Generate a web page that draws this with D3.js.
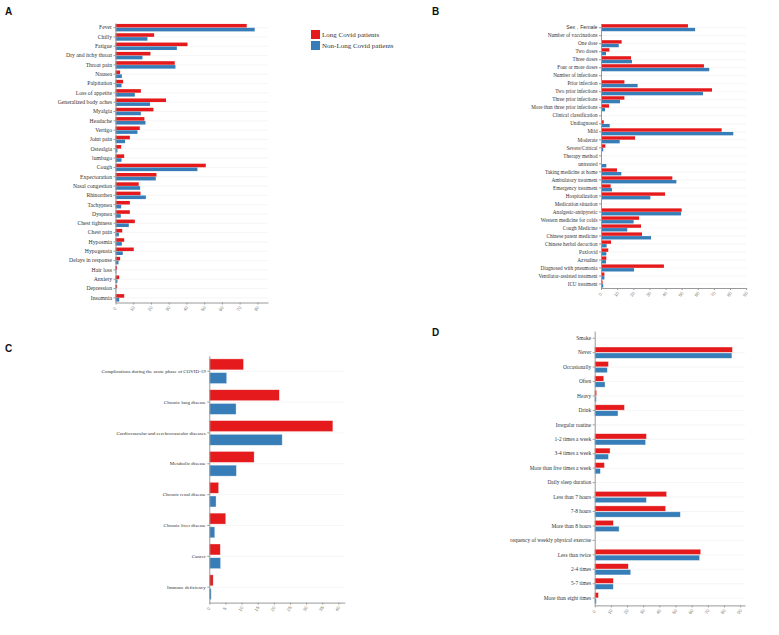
<!DOCTYPE html>
<html>
<head>
<meta charset="utf-8">
<script src="https://cdn.jsdelivr.net/npm/d3@7"></script>
<style>
    body { margin: 0; background: #fff; }
    svg { display: block; }
    .cat-label { font-family: "Liberation Serif", "Times New Roman", serif; fill: #333; }
    .tick-label { font-family: "Liberation Sans", Arial, sans-serif; fill: #777; }
    .panel-tag { font-family: "Liberation Sans", Arial, sans-serif; font-weight: bold; font-size: 10px; fill: #111; }
    .legend-text { font-family: "Liberation Serif", "Times New Roman", serif; font-size: 7px; fill: #333; }
</style>
</head>
<body>
<svg id="chart" width="779" height="635"></svg>
<script>
// ---- data (percent of patients) ----
const seriesNames = ["Long Covid patients", "Non-Long Covid patients"];
const seriesColors = ["#e41a1c", "#377eb8"];

// A: symptoms
const symptoms = ["Fever", "Chilly", "Fatigue", "Dry and itchy throat", "Throat pain", "Nausea", "Palpitation",
    "Loss of appetite", "Generalized body aches", "Myalgia", "Headache", "Vertigo", "Joint pain", "Ostealgia",
    "lumbago", "Cough", "Expectoration", "Nasal congestion", "Rhinorrhea", "Tachypnea", "Dyspnea",
    "Chest tightness", "Chest pain", "Hyposmia", "Hypogeusia", "Delays in response", "Hair loss", "Anxiety",
    "Depression", "Insomnia"];
const symptomsLong = [74.0, 21.8, 40.6, 19.7, 33.4, 2.6, 4.3, 14.3, 28.5, 21.4, 16.3, 13.7, 8.1, 3.2,
    4.9, 50.9, 23.1, 13.1, 14.1, 8.1, 8.1, 10.9, 3.8, 4.9, 10.3, 2.6, 0.9, 2.1, 0.9, 4.9];
const symptomsNonLong = [78.5, 18.0, 34.6, 15.2, 33.8, 3.6, 3.4, 10.9, 19.5, 14.3, 16.9, 12.4, 5.4, 1.1,
    3.4, 46.2, 22.7, 13.9, 17.1, 3.2, 3.0, 7.5, 1.9, 3.6, 4.1, 1.7, 0.4, 1.1, 0.2, 2.1];
const ticksA = [0, 10, 20, 30, 40, 50, 60, 70, 80];

// B: vaccination, infection and treatment
const treatment = ["Sex，Female", "Number of vaccinations", "One dose", "Two doses", "Three doses",
    "Four or more doses", "Number of infections", "Prior infection", "Two prior infections",
    "Three prior infections", "More than three prior infections", "Clinical classification", "Undiagnosed",
    "Mild", "Moderate", "Severe/Critical", "Therapy method", "untreated", "Taking medicine at home",
    "Ambulatory treatment", "Emergency treatment", "Hospitalization", "Medication situation",
    "Analgesic-antipyretic", "Western medicine for colds", "Cough Medicine", "Chinese patent medicine",
    "Chinese herbal decoction", "Paxlovid", "Azvudine", "Diagnosed with pneumonia",
    "Ventilator-assisted treatment", "ICU treatment"];
const treatmentLong = [53.9, 0, 12.8, 5.2, 18.6, 63.8, 0, 14.5, 68.8, 14.5, 5.0, 0, 1.7, 74.8, 21.1, 2.7,
    0, 0.4, 9.9, 44.2, 6.0, 39.7, 0, 50.0, 23.6, 24.8, 25.4, 6.2, 4.5, 3.3, 39.0, 2.1, 1.0];
const treatmentNonLong = [58.3, 0, 11.0, 3.1, 19.2, 67.1, 0, 22.7, 63.2, 11.8, 2.5, 0, 5.4, 82.0, 11.6, 1.4,
    0, 3.3, 12.6, 46.7, 6.8, 30.6, 0, 49.6, 20.2, 16.3, 31.0, 3.5, 3.3, 3.1, 20.5, 2.1, 1.4];
const ticksB = [0, 10, 20, 30, 40, 50, 60, 70, 80, 90];

// C: comorbidities
const comorbid = ["Complications during the acute phase of COVID-19", "Chronic lung disease",
    "Cardiovascular and cerebrovascular diseases", "Metabolic disease", "Chronic renal disease",
    "Chronic liver disease", "Cancer", "Immune deficiency"];
const comorbidLong = [10.6, 21.7, 38.3, 13.9, 2.9, 5.1, 3.4, 1.2];
const comorbidNonLong = [5.4, 8.3, 22.6, 8.4, 2.1, 1.7, 3.5, 0.6];
const ticksC = [0, 5, 10, 15, 20, 25, 30, 35, 40];

// D: lifestyle
const lifestyle = ["Smoke", "Never", "Occasionally", "Often", "Heavy", "Drink", "Irregular routine",
    "1-2 times a week", "3-4 times a week", "More than five times a week", "Daily sleep duration",
    "Less than 7 hours", "7-8 hours", "More than 8 hours", "requency of weekly physical exercise",
    "Less than twice", "2-4 times", "5-7 times", "More than eight times"];
const lifestyleLong = [0, 85.2, 8.5, 5.6, 1.2, 18.4, 0, 32.0, 9.5, 6.0, 0, 44.5, 43.9, 11.5, 0, 65.6, 20.8, 11.5, 2.3];
const lifestyleNonLong = [0, 84.9, 7.8, 6.4, 1.0, 14.4, 0, 31.5, 8.5, 3.5, 0, 32.0, 53.0, 15.1, 0, 64.9, 22.3, 11.5, 1.0];
const ticksD = [0, 10, 20, 30, 40, 50, 60, 70, 80, 90];

const sansLabels = ["Sex，Female"];

let svg = d3.select("#chart");

function drawPanel(cfg) {
    let g = svg.append("g");

    let x = d3.scaleLinear().domain(cfg.domain).range([cfg.left, cfg.right]);
    let y = d3.scaleBand().domain(cfg.cats).range([cfg.top, cfg.bottom])
        .paddingInner(cfg.pad).paddingOuter(cfg.pad / 2);
    let sub = d3.scaleBand().domain([0, 1]).range([0, y.bandwidth()]).paddingInner(cfg.inner);

    // light horizontal grid at each category
    g.selectAll(".grid")
        .data(cfg.cats)
        .join("line")
        .attr("x1", x(0))
        .attr("x2", cfg.right)
        .attr("y1", d => y(d) + y.bandwidth() / 2)
        .attr("y2", d => y(d) + y.bandwidth() / 2)
        .attr("stroke", "#eeeeee")
        .attr("stroke-width", 0.6);

    let rows = cfg.cats.map((c, i) => ({ cat: c, vals: [cfg.long[i], cfg.nonLong[i]] }));

    let groups = g.selectAll(".row")
        .data(rows)
        .join("g")
        .attr("transform", d => "translate(0," + y(d.cat) + ")");

    groups.selectAll("rect")
        .data(d => d.vals.map((v, k) => ({ k: k, v: v })))
        .join("rect")
        .attr("x", x(0))
        .attr("y", d => sub(d.k))
        .attr("width", d => x(d.v) - x(0))
        .attr("height", sub.bandwidth())
        .attr("fill", d => seriesColors[d.k])
        .attr("stroke", cfg.outline ? "#ffffff" : "none")
        .attr("stroke-opacity", 0.6)
        .attr("stroke-width", 0.6);

    // y axis
    let yAxis = g.append("g")
        .attr("transform", "translate(" + x(0) + ",0)")
        .call(d3.axisLeft(y).tickSize(2).tickSizeOuter(0).tickPadding(1.5));
    yAxis.select(".domain").attr("stroke", "#999");
    yAxis.selectAll(".tick line").attr("stroke", "#999");
    yAxis.selectAll(".tick text")
        .attr("class", "cat-label")
        .style("font-size", cfg.fontSize + "px")
        .style("font-family", d => sansLabels.includes(d) ? "'Liberation Sans', Arial, sans-serif" : null);

    // x axis
    let xAxis = g.append("g")
        .attr("transform", "translate(0," + cfg.bottom + ")")
        .call(d3.axisBottom(x).tickValues(cfg.ticks).tickSize(2).tickSizeOuter(0));
    xAxis.select(".domain").attr("stroke", "#999");
    xAxis.selectAll(".tick line").attr("stroke", "#999");
    xAxis.selectAll(".tick text")
        .attr("class", "tick-label")
        .style("font-size", "4.5px")
        .attr("text-anchor", "middle")
        .attr("y", 0)
        .attr("dy", 0)
        .attr("transform", "translate(0,7) rotate(-55)");

    svg.append("text")
        .attr("class", "panel-tag")
        .attr("x", cfg.tag[1])
        .attr("y", cfg.tag[2])
        .text(cfg.tag[0]);
}

drawPanel({ cats: symptoms, long: symptomsLong, nonLong: symptomsNonLong, ticks: ticksA,
    domain: [0, 86], left: 115.5, right: 268, top: 23, bottom: 302.5,
    pad: 0.2, inner: 0.08, fontSize: 5.7, outline: false, tag: ["A", 5, 15] });

drawPanel({ cats: treatment, long: treatmentLong, nonLong: treatmentNonLong, ticks: ticksB,
    domain: [0, 90], left: 601, right: 746.2, top: 23.7, bottom: 288,
    pad: 0.12, inner: 0.08, fontSize: 5.2, outline: false, tag: ["B", 432, 15] });

drawPanel({ cats: comorbid, long: comorbidLong, nonLong: comorbidNonLong, ticks: ticksC,
    domain: [0, 42], left: 209.3, right: 344.8, top: 355.8, bottom: 602.6,
    pad: 0.2, inner: 0.2, fontSize: 5.0, outline: true, tag: ["C", 5, 352] });

drawPanel({ cats: lifestyle, long: lifestyleLong, nonLong: lifestyleNonLong, ticks: ticksD,
    domain: [0, 93], left: 594.7, right: 745, top: 331, bottom: 605.4,
    pad: 0.22, inner: 0.1, fontSize: 5.4, outline: true, tag: ["D", 432, 336] });

// legend for panel A
let legend = svg.append("g").attr("transform", "translate(311,30)");
legend.selectAll("rect")
    .data(seriesNames)
    .join("rect")
    .attr("x", 0)
    .attr("y", (d, i) => i * 11)
    .attr("width", 9)
    .attr("height", 9)
    .attr("fill", (d, i) => seriesColors[i]);
legend.selectAll("text")
    .data(seriesNames)
    .join("text")
    .attr("class", "legend-text")
    .attr("x", 11)
    .attr("y", (d, i) => i * 11 + 6.8)
    .text(d => d);
</script>
</body>
</html>
